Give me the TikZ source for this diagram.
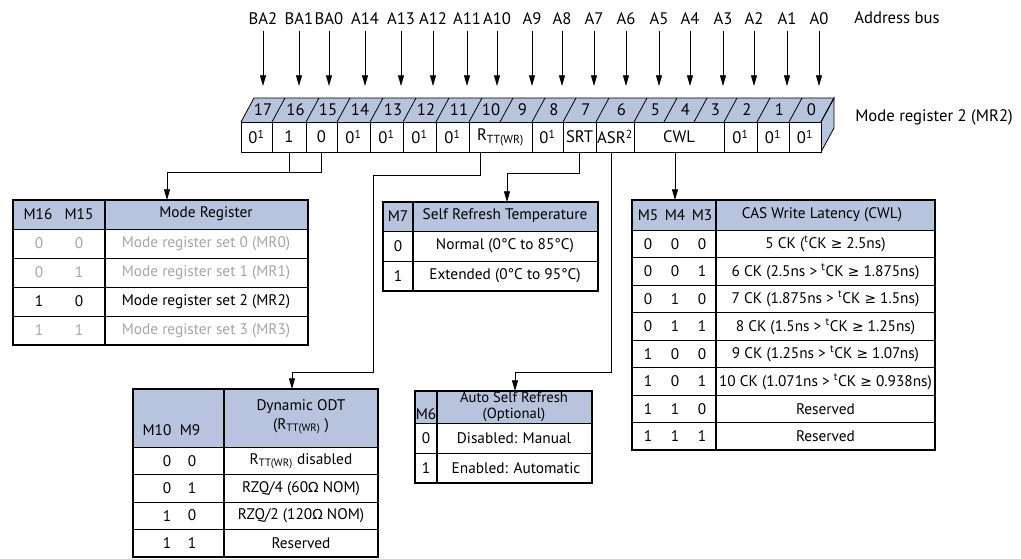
\documentclass[tikz,border=0pt]{standalone}
\usepackage{fontspec}
\setmainfont{PT Sans}
\newfontfamily\symfnt[Scale=0.9]{DejaVu Sans}
\newcommand\gesym{{\symfnt ≥}}
\newcommand\ohmsym{{\symfnt Ω}}
\usetikzlibrary{arrows.meta}
\definecolor{hdrblue}{RGB}{184,196,222}
\definecolor{dimgray}{RGB}{165,165,165}
\tikzset{
  lbl/.style={inner sep=1pt,font=\fontsize{11.5}{13}\selectfont},
  buslbl/.style={inner sep=1pt,font=\fontsize{12.5}{14}\selectfont},
  regcell/.style={buslbl,draw,fill=white,minimum height=22.5pt,inner sep=0pt},
  frame/.style={line width=0.9pt},
  sep/.style={line width=0.6pt},
  head/.style={fill=hdrblue},
}
\begin{document}
\begin{tikzpicture}[x=0.75pt,y=-0.75pt,line width=0.6pt,>={Triangle[length=8pt,width=4.5pt]}]
  \useasboundingbox (0,0) rectangle (1021,559);
  % address bus
  \foreach \nm/\xx in {BA2/263,BA1/299,BA0/329,A14/365,A13/401,A12/433,A11/467,A10/497,A9/532,
                       A8/562,A7/594,A6/626,A5/659,A4/690,A3/723,A2/754,A1/787,A0/819}{
    \node[buslbl] (\nm) at (\xx,19) {\nm};
    \coordinate (t\nm) at (\xx,86);
    \draw[->] ([yshift=-3pt]\nm.south) -- (t\nm);
  }
  \node[buslbl] (abus) at (897,18) {Address bus};
  \node[buslbl] (mrtwo) at (934,117) {Mode register 2 (MR2)};
  % register
  \draw[fill=hdrblue] (241,122) -- (254,98) -- (834,98) -- (821,122);
  \draw[fill=hdrblue] (821,122) -- (834,98) -- (834,128) -- (821,152) -- cycle;
  \foreach \a/\b/\n in {241/272/17,272/306/16,306/337/15,337/370/14,370/403/13,403/436/12,
                        436/469/11,469/500/10,500/532/9,532/563/8,563/596/7,596/634/6,
                        634/664/5,664/694/4,694/724/3,724/757/2,757/789/1,789/821/0}{
    \draw (\b,122) -- ++(13,-24);
    \node[buslbl] (b\n) at ({(\a+\b)/2+6.5},110) {\n};
  }
  \foreach \a/\b/\nm/\t in {241/272/c17/{0\textsuperscript{1}},272/306/c16/1,306/337/c15/0,
                            337/370/c14/{0\textsuperscript{1}},370/403/c13/{0\textsuperscript{1}},
                            403/436/c12/{0\textsuperscript{1}},436/469/c11/{0\textsuperscript{1}},
                            469/532/rtt/{R\textsubscript{TT(WR)}},532/563/c8/{0\textsuperscript{1}},
                            563/596/srt/SRT,596/634/asr/{ASR\textsuperscript{2}},634/724/cwl/CWL,
                            724/757/c2/{0\textsuperscript{1}},757/789/c1/{0\textsuperscript{1}},
                            789/821/c0/{0\textsuperscript{1}}}{
    \node[regcell,minimum width={(\b-\a)*0.75pt}] (\nm) at ({(\a+\b)/2},137) {\t};
  }
  % connectors
  \coordinate (mrk) at (167,172);
  \coordinate (mrin) at (167,200);
  \draw (c16.south) -- (c16.south |- mrk);
  \draw[->] (c15.south) |- (mrk) -- (mrin);
  \coordinate (odtk) at (373,372);
  \coordinate (odtin) at (292,389);
  \draw[->] ([xshift=-15.4pt]rtt.south) -- ++(0,23) -| (odtk) -| (odtin);
  \coordinate (srtin) at (507,202);
  \draw[->] (srt.south) -- ++(0,21) -| (srtin);
  \coordinate (asrk) at (611,372);
  \coordinate (asrin) at (515,391);
  \draw[->] ([xshift=-3pt]asr.south) -- (asrk) -| (asrin);
  \coordinate (cwlin) at (675,200);
  \draw[->] (cwl.south -| cwlin) -- (cwlin);
  % mode register table
  \fill[head] (13,200) rectangle (308,229);
  \foreach \y in {229,258,287,316} \draw[sep] (13,\y) -- (308,\y);
  \draw[frame] (13,200) rectangle (308,345) (105,200) -- (105,345);
  \node[lbl] (mrha) at (38,214) {M16};
  \node[lbl] (mrhb) at (79,214) {M15};
  \node[lbl] (mrhc) at (206,214) {Mode Register};
  \foreach \i/\y/\p/\q/\col in {0/243.5/0/0/dimgray,1/272.5/0/1/dimgray,2/301.5/1/0/black,3/330.5/1/1/dimgray}{
    \node[lbl,text=\col] (mr\i a) at (39,\y) {\p};
    \node[lbl,text=\col] (mr\i b) at (79,\y) {\q};
    \node[lbl,text=\col] (mr\i c) at (206,\y) {Mode register set \i\ (MR\i)};
  }
  % self refresh temperature table
  \fill[head] (383,202) rectangle (598,231);
  \draw[sep] (383,231) -- (598,231) (383,261) -- (598,261);
  \draw[frame] (383,202) rectangle (598,291) (413,202) -- (413,291);
  \node[lbl] (srha) at (398,216) {M7};
  \node[lbl] (srhb) at (505,216) {Self Refresh Temperature};
  \node[lbl] (sr0a) at (398,246) {0};
  \node[lbl] (sr0b) at (505,246) {Normal (0°C to 85°C)};
  \node[lbl] (sr1a) at (398,276) {1};
  \node[lbl] (sr1b) at (505,276) {Extended (0°C to 95°C)};
  % CAS write latency table
  \fill[head] (632,200) rectangle (935,230);
  \foreach \y in {230,257.5,285,312.5,340,367.5,395,422.5} \draw[sep] (632,\y) -- (935,\y);
  \draw[frame] (632,200) rectangle (935,450) (716,200) -- (716,450);
  \node[lbl] (cwha) at (648,215) {M5};
  \node[lbl] (cwhb) at (675,215) {M4};
  \node[lbl] (cwhc) at (702,215) {M3};
  \node[lbl] (cwhd) at (822,215) {CAS Write Latency (CWL)};
  \foreach \i/\p/\q/\r/\t in {0/0/0/0/{5 CK (\textsuperscript{t}CK \gesym{} 2.5ns)},
                              1/0/0/1/{6 CK (2.5ns > \textsuperscript{t}CK \gesym{} 1.875ns)},
                              2/0/1/0/{7 CK (1.875ns > \textsuperscript{t}CK \gesym{} 1.5ns)},
                              3/0/1/1/{8 CK (1.5ns > \textsuperscript{t}CK \gesym{} 1.25ns)},
                              4/1/0/0/{9 CK (1.25ns > \textsuperscript{t}CK \gesym{} 1.07ns)},
                              5/1/0/1/{10 CK (1.071ns > \textsuperscript{t}CK \gesym{} 0.938ns)},
                              6/1/1/0/Reserved,
                              7/1/1/1/Reserved}{
    \node[lbl] (cw\i a) at (648,244+27.5*\i) {\p};
    \node[lbl] (cw\i b) at (675,244+27.5*\i) {\q};
    \node[lbl] (cw\i c) at (702,244+27.5*\i) {\r};
    \node[lbl] (cw\i d) at (825.5,244+27.5*\i) {\t};
  }
  % dynamic ODT table
  \fill[head] (133,389) rectangle (378,447);
  \foreach \y in {447,474.5,502,529.5} \draw[sep] (133,\y) -- (378,\y);
  \draw[frame] (133,389) rectangle (378,557) (224,389) -- (224,557);
  \node[lbl] (odha) at (157,430) {M10};
  \node[lbl] (odhb) at (190,430) {M9};
  \node[lbl,align=center,font=\fontsize{11.5}{14}\selectfont] (odhc) at (301,417) {Dynamic ODT\\(R\textsubscript{TT(WR)} )};
  \foreach \i/\p/\q/\t in {0/0/0/{R\textsubscript{TT(WR)} disabled},1/0/1/{RZQ/4 (60\ohmsym{} NOM)},
                           2/1/0/{RZQ/2 (120\ohmsym{} NOM)},3/1/1/Reserved}{
    \node[lbl] (od\i a) at (167,461+27.3*\i) {\p};
    \node[lbl] (od\i b) at (192,461+27.3*\i) {\q};
    \node[lbl] (od\i c) at (301,461+27.3*\i) {\t};
  }
  % auto self refresh table
  \fill[head] (415,391) rectangle (592,423);
  \draw[sep] (415,423) -- (592,423) (415,453) -- (592,453);
  \draw[frame] (415,391) rectangle (592,483) (437,391) -- (437,483);
  \node[lbl] (asha) at (426,414) {M6};
  \node[lbl,align=center,font=\fontsize{11}{11.5}\selectfont] (ashb) at (514,407) {Auto Self Refresh\\(Optional)};
  \node[lbl] (as0a) at (426,438) {0};
  \node[lbl] (as0b) at (514,438) {Disabled: Manual};
  \node[lbl] (as1a) at (426,468) {1};
  \node[lbl] (as1b) at (516,468) {Enabled: Automatic};
\end{tikzpicture}
\end{document}
